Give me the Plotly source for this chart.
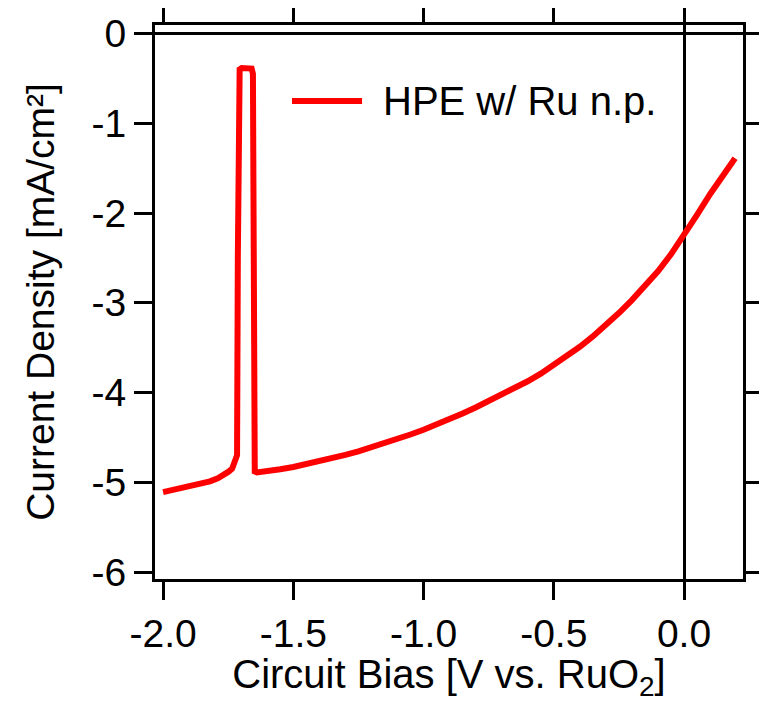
import plotly.graph_objects as go

# Data
bias = [-2.0, -1.97, -1.94, -1.91, -1.88, -1.85, -1.82, -1.79, -1.77, -1.75, -1.735, -1.724, -1.716, -1.713,
        -1.710, -1.706, -1.698, -1.685, -1.67, -1.66, -1.655, -1.653, -1.651, -1.648, -1.64,
        -1.6, -1.55, -1.5, -1.45, -1.4, -1.35, -1.3, -1.25, -1.2, -1.15, -1.1, -1.05, -1.0,
        -0.95, -0.9, -0.85, -0.8, -0.75, -0.7, -0.65, -0.6, -0.55, -0.5, -0.45, -0.4, -0.35,
        -0.3, -0.25, -0.2, -0.15, -0.1, -0.05, 0.0, 0.05, 0.1, 0.15, 0.196]
current = [-5.11, -5.09, -5.075, -5.06, -5.04, -5.015, -4.99, -4.955, -4.925, -4.885, -4.85, -4.78, -4.70, -2.50,
           -0.50, -0.40, -0.385, -0.385, -0.385, -0.39, -0.45, -2.50, -4.75, -4.88, -4.89,
           -4.88, -4.855, -4.83, -4.80, -4.767, -4.732, -4.695, -4.655, -4.612, -4.566, -4.518,
           -4.468, -4.415, -4.358, -4.298, -4.234, -4.167, -4.098, -4.027, -3.955, -3.875, -3.79,
           -3.695, -3.595, -3.49, -3.375, -3.25, -3.115, -2.97, -2.82, -2.65, -2.46, -2.25,
           -2.02, -1.79, -1.58, -1.39]

series_name = "HPE w/ Ru n.p."
x_ticks = [-2.0, -1.5, -1.0, -0.5, 0.0]
x_ticktext = ["-2.0", "-1.5", "-1.0", "-0.5", "0.0"]
y_ticks = [0, -1, -2, -3, -4, -5, -6]
y_ticktext = ["0", "-1", "-2", "-3", "-4", "-5", "-6"]

FONT = "Liberation Sans, Arial, sans-serif"

fig = go.Figure()
fig.add_trace(go.Scatter(x=bias, y=current, mode="lines", name=series_name,
                         line=dict(color="#ff0000", width=6), showlegend=False))

# Manual legend (long sample line like the original)
fig.add_shape(type="line", xref="x", yref="y", x0=-1.505, x1=-1.236, y0=-0.752, y1=-0.752,
              line=dict(color="#ff0000", width=6))
fig.add_annotation(x=-1.165, y=-0.752, xref="x", yref="y", text=series_name, showarrow=False,
                   xanchor="left", yanchor="middle", font=dict(family=FONT, size=40, color="black"))

axis_common = dict(
    showline=True, linecolor="black", linewidth=3, mirror="ticks",
    ticks="outside", ticklen=18, tickwidth=3, tickcolor="black",
    showgrid=False, zeroline=True, zerolinecolor="black", zerolinewidth=3,
    tickfont=dict(family=FONT, size=39, color="black"), automargin=False,
)

fig.update_xaxes(range=[-2.031, 0.2265], tickvals=x_ticks, ticktext=x_ticktext,
                 title=dict(text="Circuit Bias [V vs. RuO<sub>2</sub>]",
                            font=dict(family=FONT, size=40, color="black"), standoff=25),
                 **axis_common)
fig.update_yaxes(range=[-6.078, 0.095], tickvals=y_ticks, ticktext=y_ticktext,
                 title=dict(text="Current Density [mA/cm²]",
                            font=dict(family=FONT, size=39, color="black"), standoff=25),
                 **axis_common)

# page body has an 8px margin, so the figure is sized/offset to land the plot box as in the original
fig.update_layout(width=759, height=694, margin=dict(l=147, r=24, t=17, b=123),
                  paper_bgcolor="white", plot_bgcolor="white", showlegend=False)

fig.write_html("out.html")
